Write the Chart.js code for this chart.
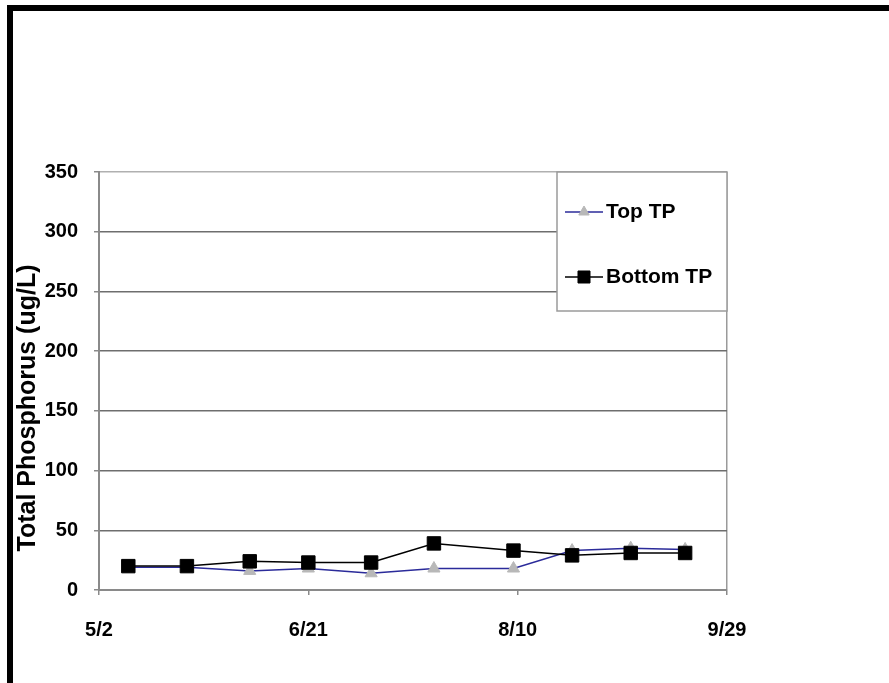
<!DOCTYPE html>
<html>
<head>
<meta charset="utf-8">
<title>Total Phosphorus</title>
<script src="https://cdn.jsdelivr.net/npm/chart.js@4.4.1/dist/chart.umd.min.js"></script>
<style>
    html, body { margin: 0; padding: 0; background: #fff; }
    #wrap { position: relative; width: 889px; height: 683px; overflow: hidden; }
    #frame {
        position: absolute; left: 7px; top: 5px; right: -10px; bottom: -10px;
        border-top: 6px solid #000; border-left: 6px solid #000;
        pointer-events: none;
    }
    canvas { position: absolute; left: 0; top: 0; }
</style>
</head>
<body>
<div id="wrap">
    <canvas id="tpChart" width="889" height="683"></canvas>
    <div id="frame"></div>
</div>
<script>
// Data
const axisStart = '5/2';
const axisEnd = '9/29';
const sampleDates = ['5/9', '5/23', '6/7', '6/21', '7/6', '7/21', '8/9', '8/23', '9/6', '9/19'];
const topTP = [19, 19, 16, 18, 14, 18, 18, 33, 35, 34];
const bottomTP = [20, 20, 24, 23, 23, 39, 33, 29, 31, 31];
const yTicks = [0, 50, 100, 150, 200, 250, 300, 350];

const year = 2007;
const fontFamily = "'Liberation Sans', Arial, sans-serif";

// day offsets from the axis start
function toDate(md) {
    const [m, d] = md.split('/').map(Number);
    return new Date(year, m - 1, d);
}
const base = toDate(axisStart);
const dayOf = (md) => Math.round((toDate(md) - base) / 86400000);
const dayLabel = (v) => {
    const d = new Date(year, base.getMonth(), base.getDate() + v);
    return (d.getMonth() + 1) + '/' + d.getDate();
};

const points = (vals) => sampleDates.map((md, i) => ({ x: dayOf(md), y: vals[i] }));

// Legend box drawn inside the plot, top right corner
const boxLegend = {
    id: 'boxLegend',
    afterDatasetsDraw(chart) {
        const { ctx, chartArea } = chart;
        const w = 170, h = 139;
        const left = chartArea.right - w, top = chartArea.top;
        ctx.save();
        ctx.fillStyle = '#fff';
        ctx.fillRect(left, top, w, h);
        ctx.strokeStyle = '#9a9a9a';
        ctx.lineWidth = 1.5;
        ctx.strokeRect(left, top, w, h);

        const rows = [top + 40, top + 105];
        chart.data.datasets.forEach((ds, i) => {
            const y = rows[i];
            ctx.strokeStyle = ds.borderColor;
            ctx.lineWidth = ds.borderWidth;
            ctx.beginPath();
            ctx.moveTo(left + 8, y);
            ctx.lineTo(left + 46, y);
            ctx.stroke();
            ctx.fillStyle = ds.pointBackgroundColor;
            ctx.strokeStyle = ds.pointBorderColor;
            ctx.lineWidth = 1;
            Chart.helpers.drawPoint(ctx, {
                pointStyle: ds.pointStyle,
                radius: ds.legendRadius,
                borderWidth: 1
            }, left + 27, y);
            ctx.fillStyle = '#000';
            ctx.font = 'bold 21px ' + fontFamily;
            ctx.textBaseline = 'middle';
            ctx.fillText(ds.label, left + 49, y);
        });
        ctx.restore();
    }
};

// Rotated y axis title, overlapping the tick labels as in the original
const yTitle = {
    id: 'yTitle',
    afterDraw(chart) {
        const { ctx, chartArea } = chart;
        ctx.save();
        ctx.translate(28, chartArea.bottom - 182);
        ctx.rotate(-Math.PI / 2);
        ctx.font = 'bold 25px ' + fontFamily;
        ctx.fillStyle = '#000';
        ctx.textAlign = 'center';
        ctx.textBaseline = 'middle';
        ctx.fillText('Total Phosphorus (ug/L)', 0, 0);
        ctx.restore();
    }
};

new Chart(document.getElementById('tpChart'), {
    type: 'line',
    data: {
        datasets: [{
            label: 'Top TP',
            data: points(topTP),
            borderColor: '#2b2b9a',
            borderWidth: 1.5,
            pointStyle: 'triangle',
            pointRadius: 7,
            legendRadius: 6,
            pointBackgroundColor: '#b8b8b8',
            pointBorderColor: '#b8b8b8',
            pointBorderWidth: 1,
            order: 1
        }, {
            label: 'Bottom TP',
            data: points(bottomTP),
            borderColor: '#000',
            borderWidth: 1.5,
            pointStyle: 'rect',
            pointRadius: 9.5,
            legendRadius: 8.5,
            pointBackgroundColor: '#000',
            pointBorderColor: '#000',
            pointBorderWidth: 1,
            order: 0
        }]
    },
    options: {
        responsive: false,
        animation: false,
        layout: { padding: { left: 0, top: 172, right: 162, bottom: 0 } },
        plugins: {
            legend: { display: false },
            tooltip: { enabled: false }
        },
        scales: {
            x: {
                type: 'linear',
                min: 0,
                max: dayOf(axisEnd),
                afterFit: (scale) => { scale.height = 93; },
                afterBuildTicks: (scale) => {
                    scale.ticks = [0, 50, 100, 150].map(v => ({ value: v }));
                },
                ticks: {
                    callback: (v) => dayLabel(v),
                    color: '#000',
                    font: { family: fontFamily, size: 20, weight: 'bold' },
                    padding: 23,
                    maxRotation: 0
                },
                grid: {
                    color: (c) => c.index === 3 ? '#9a9a9a' : 'transparent',
                    tickColor: '#8a8a8a',
                    tickLength: 5,
                    lineWidth: 1.5
                },
                border: { color: '#8a8a8a', width: 2 }
            },
            y: {
                min: 0,
                max: 350,
                afterFit: (scale) => { scale.width = 99; },
                afterBuildTicks: (scale) => {
                    scale.ticks = yTicks.map(v => ({ value: v }));
                },
                ticks: {
                    color: '#000',
                    font: { family: fontFamily, size: 20, weight: 'bold' },
                    padding: 16
                },
                grid: {
                    color: (c) => c.tick && c.tick.value === 350 ? '#b0b0b0' : '#6e6e6e',
                    tickColor: '#8a8a8a',
                    tickLength: 5,
                    lineWidth: 1.5
                },
                border: { color: '#8a8a8a', width: 2 }
            }
        }
    },
    plugins: [boxLegend, yTitle]
});
</script>
</body>
</html>
